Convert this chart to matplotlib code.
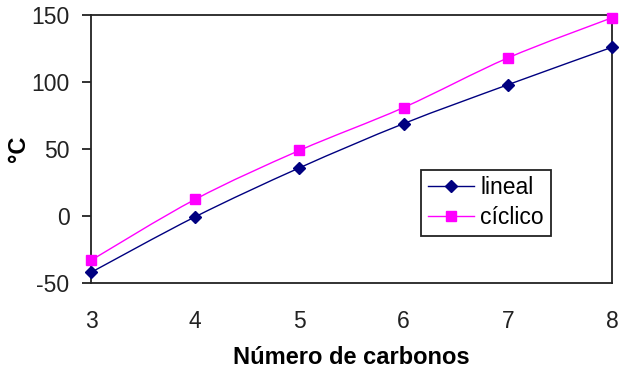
import matplotlib
matplotlib.use("Agg")
import matplotlib.pyplot as plt
from matplotlib.path import Path
from matplotlib.patches import PathPatch
import numpy as np

carbons = [3, 4, 5, 6, 7, 8]
lineal = [-42, -0.5, 36, 69, 98, 126]
ciclico = [-33, 12.5, 49, 81, 118, 148]
yticks = [-50, 0, 50, 100, 150]

plt.rcParams['font.family'] = ['Liberation Sans', 'DejaVu Sans']
plt.rcParams['axes.unicode_minus'] = False

fig = plt.figure(figsize=(6.19, 3.75), dpi=100)
ax = fig.add_axes([0.147, 0.245, 0.842, 0.715])


def smooth_path(xs, ys):
    xs = np.asarray(xs, float)
    ys = np.asarray(ys, float)
    n = len(xs)
    verts = [(xs[0], ys[0])]
    codes = [Path.MOVETO]
    for i in range(n - 1):
        p0 = (xs[max(i - 1, 0)], ys[max(i - 1, 0)])
        p1 = (xs[i], ys[i])
        p2 = (xs[i + 1], ys[i + 1])
        p3 = (xs[min(i + 2, n - 1)], ys[min(i + 2, n - 1)])
        c1 = (p1[0] + (p2[0] - p0[0]) / 6, p1[1] + (p2[1] - p0[1]) / 6)
        c2 = (p2[0] - (p3[0] - p1[0]) / 6, p2[1] - (p3[1] - p1[1]) / 6)
        verts += [c1, c2, p2]
        codes += [Path.CURVE4] * 3
    return Path(verts, codes)


for ys, col, mk, lab in [(lineal, '#000080', 'D', 'lineal'),
                         (ciclico, '#FF00FF', 's', 'cíclico')]:
    ms = 6.5 if mk == 's' else 6
    ax.add_patch(PathPatch(smooth_path(carbons, ys), facecolor='none',
                           edgecolor=col, lw=1.0, zorder=2, clip_on=False))
    ax.plot(carbons, ys, linestyle='none', marker=mk, color=col,
            markersize=ms, zorder=3, clip_on=False)
    ax.plot([], [], color=col, lw=1.0, marker=mk, markersize=ms, label=lab)

ax.set_xlim(3, 8)
ax.set_ylim(-50, 150)
ax.set_xticks(carbons)
ax.set_yticks(yticks)
ax.tick_params(axis='x', length=0, pad=19.5, labelsize=16.5, colors='#222222')
ax.tick_params(axis='y', length=6.5, width=1.3, pad=9, labelsize=16.5, colors='#222222')
for s in ax.spines.values():
    s.set_linewidth(1.3)
    s.set_color('#222222')

ax.set_xlabel('Número de carbonos', fontsize=17, fontweight='bold', labelpad=9)
ax.set_ylabel('°C', fontsize=17, fontweight='bold', va='center', ha='center')
ax.yaxis.set_label_coords(-0.14, 0.5)

leg = ax.legend(loc='lower left', bbox_to_anchor=(0.633, 0.175, 0.25, 0.25),
                fontsize=16.5, frameon=True, fancybox=False, framealpha=1,
                edgecolor='#222222', borderpad=0.3, handlelength=2.0,
                handletextpad=0.3, labelspacing=0.3, borderaxespad=0)
leg.get_frame().set_linewidth(1.3)

fig.savefig('out.png', dpi=100)
